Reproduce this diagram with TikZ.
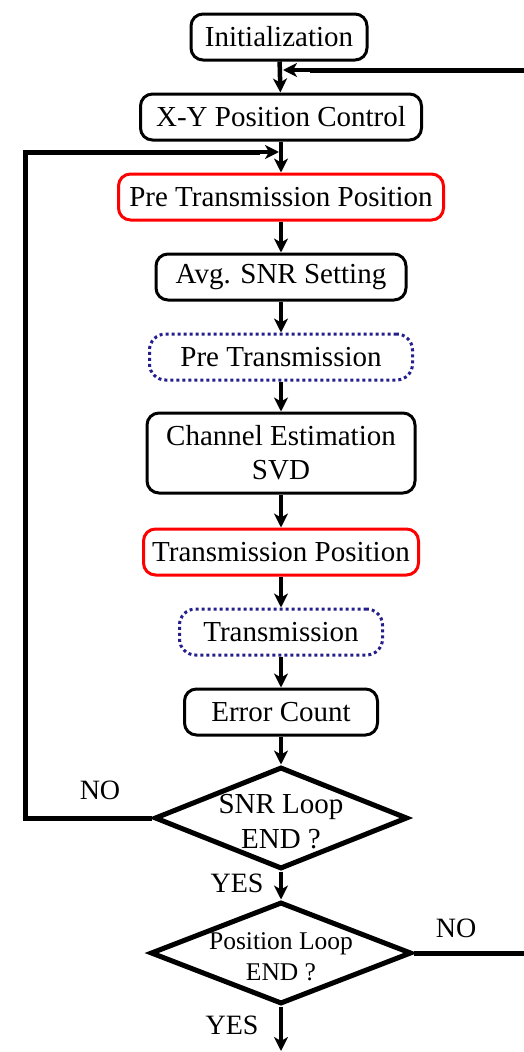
\documentclass[tikz,border=0pt]{standalone}
\usepackage{fontspec}
\setmainfont{Liberation Serif}
\usetikzlibrary{shapes.geometric,arrows.meta}
\definecolor{navy}{RGB}{35,30,140}
\tikzset{
  box/.style={draw,rounded corners=12pt,line width=3pt,minimum height=46pt,
    inner sep=0pt,align=center,font=\fontsize{29}{34}\selectfont},
  redbox/.style={box,draw=red},
  dotbox/.style={box,draw=navy,dash pattern=on 3pt off 3pt,rounded corners=16pt},
  decision/.style={draw,diamond,line width=5pt,inner sep=0pt},
  flow/.style={line width=4.5pt,-{Stealth[length=14pt,width=14pt,inset=4pt]}},
  loop/.style={line width=5pt},
  answer/.style={font=\fontsize{28}{31}\selectfont}
}
\begin{document}
\begin{tikzpicture}[x=1pt,y=-1pt]
\useasboundingbox (0,0) rectangle (524,1052);
\node(init) at (279,37)[box,minimum width=176pt]        {Initialization};
\node(xy) at (281,117)[box,minimum width=281pt]         {X-Y Position Control};
\node(prepos) at (281,197)[redbox,minimum width=325pt]  {Pre Transmission Position};
\node(snrset) at (281,277)[box,minimum width=250pt]     {Avg. SNR Setting};
\node(pretx) at (281,357)[dotbox,minimum width=263pt]   {Pre Transmission};
\node(chest) at (281,453)[box,minimum width=268pt,minimum height=80pt] {Channel Estimation\\SVD};
\node(txpos) at (281,552)[redbox,minimum width=275pt]   {Transmission Position};
\node(tx) at (281,632)[dotbox,minimum width=203pt]      {Transmission};
\node(err) at (281,712)[box,minimum width=193pt]        {Error Count};
\node(snrloop) at (281,818)[decision,minimum width=253pt,minimum height=102pt,
  label={[align=center,font=\fontsize{29}{35}\selectfont,yshift=-4pt]center:SNR Loop\\END ?}] {};
\node(posloop) at (281,953)[decision,minimum width=261pt,minimum height=102pt,
  label={[align=center,font=\fontsize{25.5}{31}\selectfont,yshift=-4pt]center:Position Loop\\END ?}] {};
\coordinate(end) at (281,1051);
\coordinate(join1) at (281,70);
\coordinate(join2) at (281,152);

% answers
\node(no1) at (100,790)[answer]  {NO};
\node(yes1) at (237,883)[answer] {YES};
\node(no2) at (456,928)[answer]  {NO};
\node(yes2) at (232,1025)[answer]{YES};

\path [flow]
  (init)    edge  (xy)
  (xy)      edge  (prepos)
  (prepos)  edge  (snrset)
  (snrset)  edge  (pretx)
  (pretx)   edge  (chest)
  (chest)   edge  (txpos)
  (txpos)   edge  (tx)
  (tx)      edge  (err)
  (err)     edge  (snrloop)
  (snrloop) edge  (posloop)
  (posloop) edge  (end);

\draw [loop] (snrloop.west) -- (25,818) -- (25,152) -- (260,152);
\draw [flow] (250,152) -- ([xshift=-2pt]join2);
\draw [loop] (posloop.east) -- (530,953) -- (530,70) -- (310,70);
\draw [flow] (320,70) -- ([xshift=2pt]join1);
\end{tikzpicture}
\end{document}
